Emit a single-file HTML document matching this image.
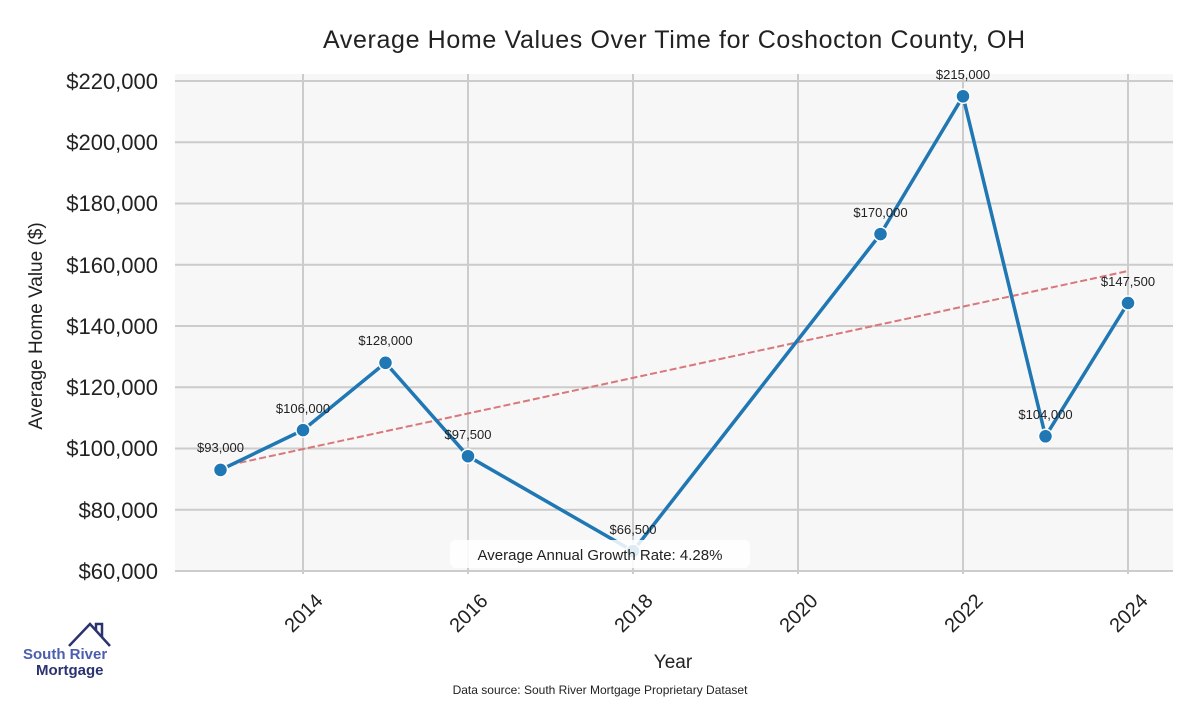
<!DOCTYPE html>
<html><head><meta charset="utf-8"><style>body{margin:0;background:#fff}</style></head><body>
<svg width="1200" height="700" xmlns="http://www.w3.org/2000/svg" font-family="Liberation Sans, sans-serif">
<rect x="175" y="74" width="998" height="497" fill="#f7f7f7"/>
<g stroke="#cccccc" stroke-width="2">
<line x1="175" x2="1173" y1="81" y2="81"/><line x1="175" x2="1173" y1="142.25" y2="142.25"/><line x1="175" x2="1173" y1="203.5" y2="203.5"/><line x1="175" x2="1173" y1="264.75" y2="264.75"/><line x1="175" x2="1173" y1="326" y2="326"/><line x1="175" x2="1173" y1="387.25" y2="387.25"/><line x1="175" x2="1173" y1="448.5" y2="448.5"/><line x1="175" x2="1173" y1="509.75" y2="509.75"/><line x1="175" x2="1173" y1="571" y2="571"/>
<line x1="303" x2="303" y1="74" y2="574"/><line x1="468" x2="468" y1="74" y2="574"/><line x1="633" x2="633" y1="74" y2="574"/><line x1="798" x2="798" y1="74" y2="574"/><line x1="963" x2="963" y1="74" y2="574"/><line x1="1128" x2="1128" y1="74" y2="574"/>
</g>
<g font-size="22" fill="#222" text-anchor="end">
<text x="158" y="89">$220,000</text><text x="158" y="150">$200,000</text><text x="158" y="211">$180,000</text><text x="158" y="273">$160,000</text><text x="158" y="334">$140,000</text><text x="158" y="395">$120,000</text><text x="158" y="456">$100,000</text><text x="158" y="518">$80,000</text><text x="158" y="579">$60,000</text>
</g>
<g font-size="20" fill="#222" text-anchor="end">
<text transform="translate(324,602) rotate(-45)">2014</text>
<text transform="translate(489,602) rotate(-45)">2016</text>
<text transform="translate(654,602) rotate(-45)">2018</text>
<text transform="translate(819,602) rotate(-45)">2020</text>
<text transform="translate(984,602) rotate(-45)">2022</text>
<text transform="translate(1149,602) rotate(-45)">2024</text>
</g>
<text x="674" y="48" font-size="25" text-anchor="middle" fill="#222" textLength="702">Average Home Values Over Time for Coshocton County, OH</text>
<text x="673" y="668" font-size="19" text-anchor="middle" fill="#222">Year</text>
<text transform="translate(42,326) rotate(-90)" font-size="19" text-anchor="middle" fill="#222">Average Home Value ($)</text>
<text x="600" y="694" font-size="12" text-anchor="middle" fill="#222">Data source: South River Mortgage Proprietary Dataset</text>
<line x1="220" y1="467" x2="1128" y2="271" stroke="#d9777a" stroke-width="2" stroke-dasharray="7,3"/>
<polyline fill="none" stroke="#1f77b4" stroke-width="3.5" points="220.5,469.9 303,430.1 385.5,362.8 468,456.2 633,551.1 880.5,234.1 963,96.3 1045.5,436.3 1128,303"/>
<g fill="#1f77b4" stroke="#fff" stroke-width="1.5">
<circle cx="220.5" cy="469.9" r="7"/><circle cx="303" cy="430.1" r="7"/><circle cx="385.5" cy="362.8" r="7"/><circle cx="468" cy="456.2" r="7"/><circle cx="633" cy="551.1" r="7"/><circle cx="880.5" cy="234.1" r="7"/><circle cx="963" cy="96.3" r="7"/><circle cx="1045.5" cy="436.3" r="7"/><circle cx="1128" cy="303" r="7"/>
</g>
<g font-size="13" fill="#222" text-anchor="middle">
<text x="220.5" y="452">$93,000</text><text x="303" y="413">$106,000</text><text x="385.5" y="345">$128,000</text><text x="468" y="439">$97,500</text><text x="633" y="534">$66,500</text><text x="880.5" y="217">$170,000</text><text x="963" y="79">$215,000</text><text x="1045.5" y="419">$104,000</text><text x="1128" y="286">$147,500</text>
</g>
<rect x="450" y="540" width="300" height="28" rx="6" fill="#fff" opacity="0.85"/>
<text x="600" y="560" font-size="15" text-anchor="middle" fill="#222">Average Annual Growth Rate: 4.28%</text>
<polyline points="69,646 90,624 110,646" fill="none" stroke="#2a3270" stroke-width="2.5"/>
<polyline points="96,630 96,624 102,624 102,637" fill="none" stroke="#2a3270" stroke-width="2.5"/>
<text x="23" y="659" font-size="15" font-weight="bold" fill="#4a5fb0">South River</text>
<text x="36" y="675" font-size="15" font-weight="bold" fill="#2a3270">Mortgage</text>
</svg>
</body></html>
